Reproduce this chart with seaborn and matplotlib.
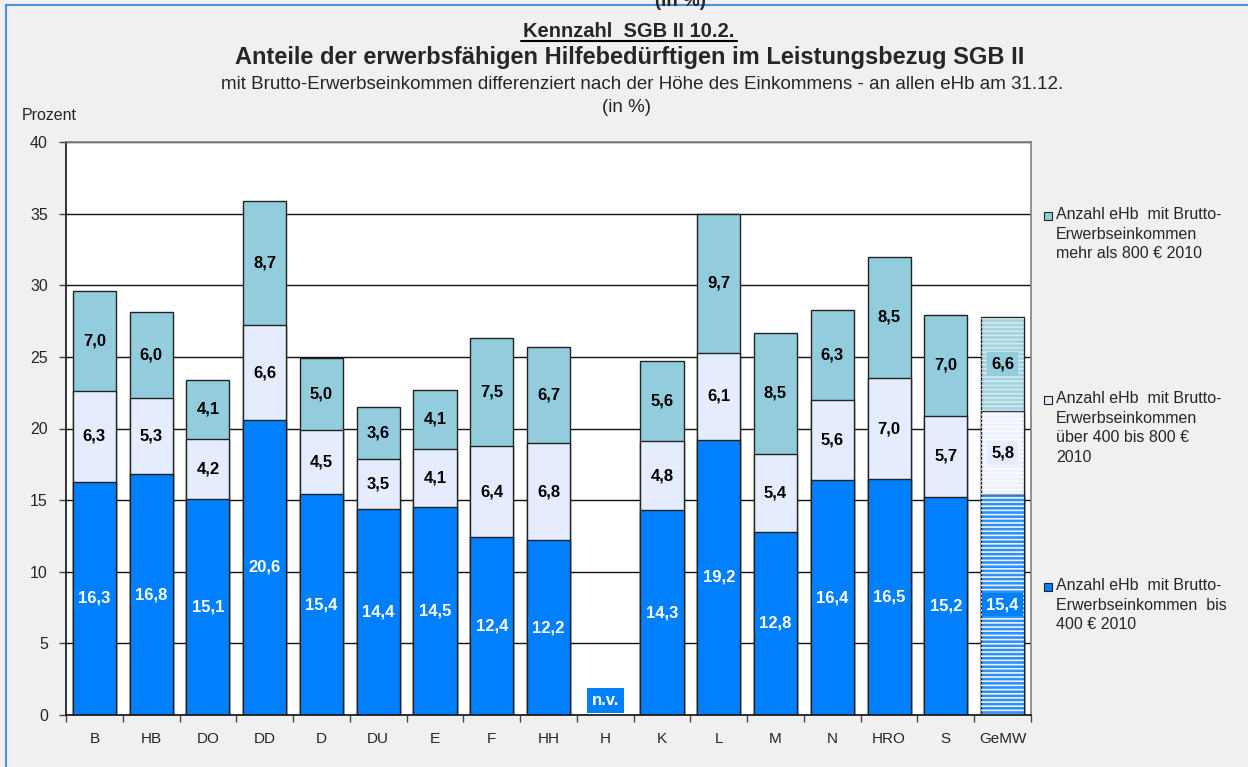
import pandas as pd
import matplotlib.pyplot as plt
import numpy as np
import seaborn as sns
from matplotlib.patches import Rectangle

# values
staedte = ['B', 'HB', 'DO', 'DD', 'D', 'DU', 'E', 'F', 'HH', 'H',
           'K', 'L', 'M', 'N', 'HRO', 'S', 'GeMW']
bis400 = [16.3, 16.8, 15.1, 20.6, 15.4, 14.4, 14.5, 12.4, 12.2, np.nan,
          14.3, 19.2, 12.8, 16.4, 16.5, 15.2, 15.4]
bis800 = [6.3, 5.3, 4.2, 6.6, 4.5, 3.5, 4.1, 6.4, 6.8, np.nan,
          4.8, 6.1, 5.4, 5.6, 7.0, 5.7, 5.8]
ueber800 = [7.0, 6.0, 4.1, 8.7, 5.0, 3.6, 4.1, 7.5, 6.7, np.nan,
            5.6, 9.7, 8.5, 6.3, 8.5, 7.0, 6.6]

legend_texts = [
    'Anzahl eHb  mit Brutto-\nErwerbseinkommen\nmehr als 800 € 2010',
    'Anzahl eHb  mit Brutto-\nErwerbseinkommen\nüber 400 bis 800 €\n2010',
    'Anzahl eHb  mit Brutto-\nErwerbseinkommen  bis\n400 € 2010',
]

c_bottom = '#0080ff'
c_mid = '#e4ecfe'
c_top = '#93cddd'

df = pd.DataFrame({'Stadt': staedte, 'bis400': bis400,
                   'bis800': bis800, 'ueber800': ueber800})
df['cum2'] = df['bis400'] + df['bis800']
df['cum3'] = df['cum2'] + df['ueber800']
df_ok = df.dropna()

sns.set_style('white')
plt.rcParams['font.family'] = ['Liberation Sans', 'DejaVu Sans']
plt.rcParams['hatch.linewidth'] = 1.0

fig = plt.figure(figsize=(12.48, 7.67), dpi=100)
fig.patch.set_facecolor('#f0f0f0')
ax = fig.add_axes([66 / 1248, 1 - 715 / 767, 965 / 1248, 573 / 767])
ax.set_facecolor('white')

# stacked bars: draw cumulative totals from top layer down
layers = [('cum3', c_top), ('cum2', c_mid), ('bis400', c_bottom)]
patch_sets = {}
for col, colr in layers:
    n0 = len(ax.patches)
    sns.barplot(data=df_ok, x='Stadt', y=col, order=staedte, color=colr,
                width=0.76, edgecolor='#222222', linewidth=1.0,
                saturation=1, ax=ax, zorder=2)
    patch_sets[col] = ax.patches[n0:]

# GeMW bar gets the striped look
gemw_x = staedte.index('GeMW')
light = {'cum3': '#a5d4e0', 'cum2': '#eef2fd', 'bis400': '#2f90f8'}
for col, _ in layers:
    for p in patch_sets[col]:
        if abs(p.get_x() + p.get_width() / 2 - gemw_x) < 0.1:
            p.set_facecolor(light[col])
            ov = Rectangle((p.get_x(), p.get_y()), p.get_width(), p.get_height(),
                           facecolor='none', edgecolor='#ffffff', hatch='----',
                           linewidth=0, zorder=2.5, alpha=0.55)
            ax.add_patch(ov)

# value labels
lab_kw = dict(ha='center', va='center', fontsize=12, fontweight='bold', zorder=5)
for i, s in enumerate(staedte):
    b, m, t = bis400[i], bis800[i], ueber800[i]
    if np.isnan(b):
        ax.text(i, 1.0, 'n.v.', color='white',
                bbox=dict(facecolor=c_bottom, edgecolor='none', pad=3.5), **lab_kw)
        continue
    ax.text(i, b / 2, f'{b:.1f}'.replace('.', ','), color='white',
            bbox=dict(facecolor=c_bottom, edgecolor='none', pad=3), **lab_kw)
    ax.text(i, b + m / 2, f'{m:.1f}'.replace('.', ','), color='black',
            bbox=dict(facecolor=c_mid, edgecolor='none', pad=3), **lab_kw)
    ax.text(i, b + m + t / 2, f'{t:.1f}'.replace('.', ','), color='black',
            bbox=dict(facecolor=c_top, edgecolor='none', pad=3), **lab_kw)

ax.set_ylim(0, 40)
ax.set_xlim(-0.5, len(staedte) - 0.5)
ax.set_yticks(range(0, 41, 5))
ax.yaxis.grid(True, color='#111111', linewidth=1.0, zorder=0)
ax.set_axisbelow(True)
ax.set_xlabel('')
ax.set_ylabel('')
ax.tick_params(axis='y', length=5, width=1, color='#444444', labelsize=11.5,
               pad=8, left=True)
ax.tick_params(axis='x', length=0, labelsize=11, pad=12)
ax.set_xticks(np.arange(-0.5, len(staedte), 1.0), minor=True)
ax.tick_params(axis='x', which='minor', length=5, width=1, color='#444444',
               bottom=True)
for side in ['left', 'bottom']:
    ax.spines[side].set_color('#111111')
    ax.spines[side].set_linewidth(1.2)
for side in ['top', 'right']:
    ax.spines[side].set_color('#808080')
    ax.spines[side].set_linewidth(1.2)

# titles (baseline positions in pixels from the top)
fig.text(629 / 1248, 1 - 37 / 767, 'Kennzahl  SGB II 10.2.', ha='center',
         va='baseline', fontsize=14.5, fontweight='bold')
fig.add_artist(plt.Line2D([521 / 1248, 737 / 1248], [1 - 40.5 / 767, 1 - 40.5 / 767],
                          color='black', linewidth=1.5))
fig.text(630 / 1248, 1 - 64 / 767,
         'Anteile der erwerbsfähigen Hilfebedürftigen im Leistungsbezug SGB II',
         ha='center', va='baseline', fontsize=17, fontweight='bold')
fig.text(642 / 1248, 1 - 89 / 767,
         'mit Brutto-Erwerbseinkommen differenziert nach der Höhe des Einkommens - an allen eHb am 31.12.',
         ha='center', va='baseline', fontsize=13.5)
fig.text(626 / 1248, 1 - 112 / 767, '(in %)', ha='center', va='baseline',
         fontsize=13.5)
fig.text(22 / 1248, 1 - 115 / 767, 'Prozent', ha='left', va='center',
         fontsize=11.5)
fig.text(680 / 1248, 1 - 1 / 767, '(in %)', ha='center', va='center',
         fontsize=13.5, fontweight='bold')

# legend on the right
leg_y = [216, 400, 587]
leg_c = [c_top, c_mid, c_bottom]
for y, txt, colr in zip(leg_y, legend_texts, leg_c):
    fig.add_artist(Rectangle((1044 / 1248, 1 - (y + 4) / 767), 8 / 1248, 8 / 767,
                             facecolor=colr, edgecolor='#222222', linewidth=0.8))
    fig.text(1056 / 1248, 1 - (y - 9) / 767, txt, ha='left', va='top',
             fontsize=11.5, linespacing=1.38)

# outer frame
fig.add_artist(Rectangle((6 / 1248, -0.05), 1.1, 1 - 5 / 767 + 0.05,
                         facecolor='none', edgecolor='#4a90d9', linewidth=1.5))

fig.savefig('out.png', dpi=100, facecolor=fig.get_facecolor())
